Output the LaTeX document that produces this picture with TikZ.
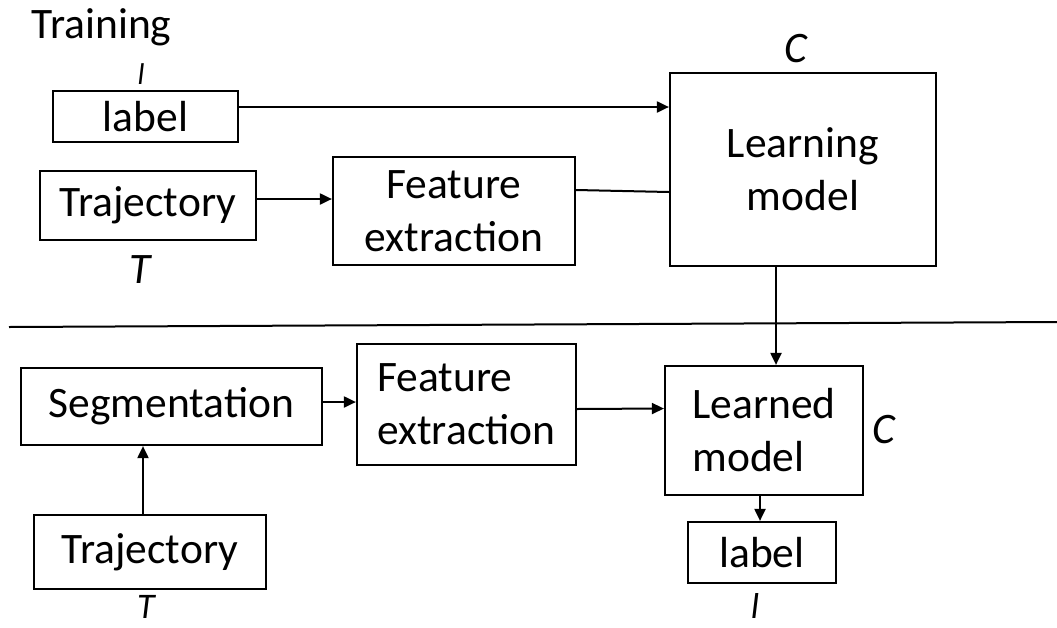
\documentclass[tikz,border=0pt]{standalone}
\usepackage{fontspec}
\setmainfont{Carlito}
\usetikzlibrary{arrows.meta}
\begin{document}
\begin{tikzpicture}[x=1pt,y=-1pt,
  box/.style={draw,line width=2.2pt,inner sep=0pt,align=center,
    font=\fontsize{43.5}{53}\selectfont},
  lbox/.style={box,align=left},
  var/.style={inner sep=0pt,anchor=base,font=\fontsize{43.5}{53}\selectfont\itshape},
  edgevar/.style={var,font=\fontsize{36}{40}\selectfont\itshape},
  arr/.style={line width=2pt,-{Triangle[length=12pt,width=11pt]}},
  link/.style={line width=2pt}]
\useasboundingbox (0,0) rectangle (1057,627);
\fill[white] (0,0) rectangle (1057,627);

% training stage
\node[anchor=base,inner sep=0pt,font=\fontsize{43.5}{53}\selectfont] (train) at (101.5,38) {Training};
\node[box,minimum width=185pt,minimum height=51pt] (lab1) at (145.5,116.5) {label};
\node[var,font=\fontsize{30}{36}\selectfont\itshape] (l1) at (141,84) {l};
\node[box,minimum width=216pt,minimum height=69pt] (traj1) at (148,205.5) {Trajectory};
\node[var] (t1) at (140,283) {T};
\node[box,minimum width=242pt,minimum height=108pt] (fe1) at (454,211) {Feature\\extraction};
\node[box,minimum width=266pt,minimum height=193pt] (lm) at (803,169.5) {Learning\\model};
\node[var] (c1) at (796,62) {C};

\draw[arr] ([yshift=9.5pt]lab1.east) -- ([yshift=62.5pt]lm.west);
\draw[arr] ([yshift=6.5pt]traj1.east) -- ([yshift=12pt]fe1.west);
\draw[link] ([yshift=21pt]fe1.east) -- ([yshift=-22.5pt]lm.west);

% separator between the two stages
\coordinate (sepl) at (9,327);
\coordinate (sepr) at (1057,322);
\draw[line width=2pt] (sepl) -- (sepr);

% recognition stage
\node[box,minimum width=301pt,minimum height=77pt] (seg) at (171.5,406.5) {Segmentation};
\node[box,minimum width=232pt,minimum height=74pt] (traj2) at (150,552) {Trajectory};
\node[edgevar] (t2) at (146,618) {T};
\node[lbox,minimum width=219pt,minimum height=121pt] (fe2) at (466.5,404.5) {Feature\\extraction};
\node[lbox,minimum width=198pt,minimum height=129pt] (lm2) at (764,430.5) {Learned\\model};
\node[var] (c2) at (884,443) {C};
\node[box,minimum width=148pt,minimum height=61pt] (lab2) at (762,552.5) {label};
\node[edgevar] (l2) at (755,618) {l};

\draw[arr] ([xshift=-27pt]lm.south) -- ([xshift=12pt]lm2.north);
\draw[arr] ([xshift=-7pt]traj2.north) -- ([xshift=-28.5pt]seg.south);
\draw[arr] ([yshift=4.5pt]seg.east) -- ([yshift=2.5pt]fe2.west);
\draw[arr] ([yshift=-4.5pt]fe2.east) -- ([yshift=22pt]lm2.west);
\draw[arr] ([xshift=-4pt]lm2.south) -- ([xshift=-2pt]lab2.north);
\end{tikzpicture}
\end{document}
